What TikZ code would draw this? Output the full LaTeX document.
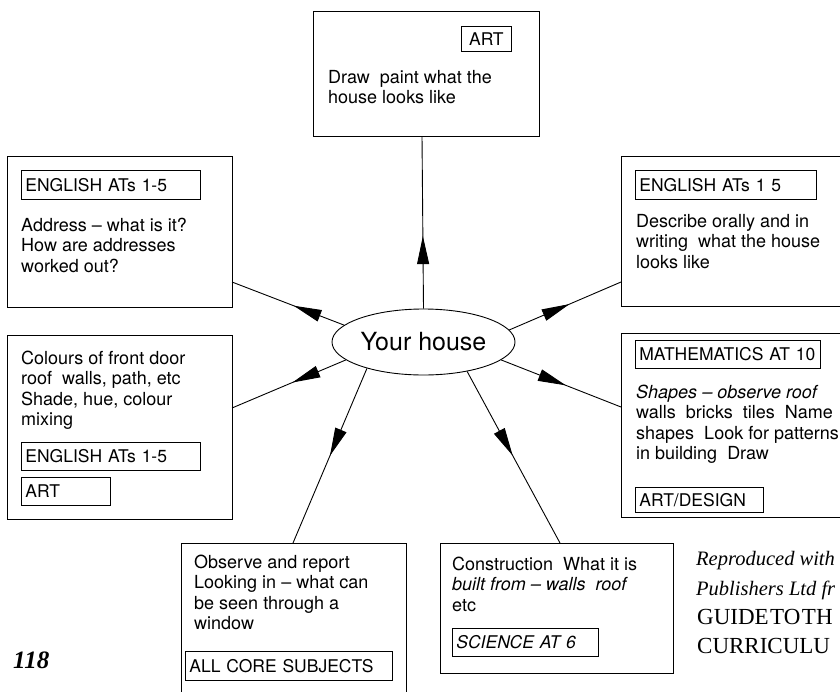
\documentclass[tikz,border=0pt]{standalone}
\usepackage{fontspec}
\setmainfont{TeX Gyre Heros}
\newfontfamily\capfont{Liberation Serif}
\usetikzlibrary{shapes.geometric,arrows.meta,decorations.markings}
\tikzset{
  mainbox/.style={draw, line width=0.9pt, anchor=north west, inner sep=0pt},
  tagbox/.style={draw, line width=0.8pt, anchor=north west, inner xsep=4pt, inner ysep=0pt,
    text width=#1, align=left, text height=13pt, text depth=0pt,
    font=\fontsize{17.5}{20}\selectfont},
  body/.style={anchor=base west, inner sep=0pt, font=\fontsize{18}{20.5}\selectfont},
  capt/.style={anchor=base west, inner sep=0pt, font=\capfont\itshape\fontsize{20.5}{24}\selectfont},
  captcaps/.style={anchor=base west, inner sep=0pt, font=\capfont\fontsize{23}{26}\selectfont},
  link/.style={line width=0.9pt},
  midarrow/.style={postaction={decorate}, decoration={markings,
    mark=at position #1 with {\arrow{Triangle[length=28pt,width=12pt]}}}},
}
\begin{document}
\begin{tikzpicture}[x=1pt,y=-1pt]
\useasboundingbox (0,0) rectangle (840,691);
\fill[white] (0,0) rectangle (840,691);
\clip (0,0) rectangle (840,691);

% centre
\node[draw, ellipse, line width=0.9pt, minimum width=183pt, minimum height=66pt, inner sep=0pt,
      font=\fontsize{25}{28}\selectfont] (house) at (423.5,342) {Your house};

% top box (ART)
\node[mainbox, minimum width=226pt, minimum height=125pt] (art) at (313,11) {};
\node[tagbox=42pt, align=center, minimum height=25pt] (artT) at (461,26) {ART};
\node[body] (artB) at (328,83) {\parbox[t]{220pt}{\raggedright Draw\ \ paint what the\\house looks like}};

% upper left
\node[mainbox, minimum width=225pt, minimum height=151pt] (ul) at (7,156) {};
\node[tagbox=171pt, minimum height=29pt] (ulT) at (21,170) {ENGLISH ATs 1-5};
\node[body] (ulB) at (21,231) {\parbox[t]{210pt}{\raggedright Address – what is it?\\How are addresses\\worked out?}};

% upper right
\node[mainbox, minimum width=240pt, minimum height=150pt] (ur) at (621,156) {};
\node[tagbox=173pt, minimum height=29pt] (urT) at (635,170) {ENGLISH ATs 1 5};
\node[body] (urB) at (636,227) {\parbox[t]{210pt}{\raggedright Describe orally and in\\writing\ \ what the house\\looks like}};

% lower left
\node[mainbox, minimum width=225pt, minimum height=184pt] (lm) at (7,335) {};
\node[body] (lmB) at (21,364) {\parbox[t]{210pt}{\raggedright Colours of front door\\roof\ \ walls, path, etc\\Shade, hue, colour\\mixing}};
\node[tagbox=171pt, minimum height=28pt] (lmT1) at (21,442) {ENGLISH ATs 1-5};
\node[tagbox=81pt, minimum height=28pt] (lmT2) at (21,477) {ART};

% lower right
\node[mainbox, minimum width=240pt, minimum height=184pt] (rm) at (621,333) {};
\node[tagbox=177pt, minimum height=28pt] (rmT1) at (635,340) {MATHEMATICS AT 10};
\node[body] (rmB) at (636,398) {\parbox[t]{215pt}{\raggedright \textit{Shapes – observe roof}\\walls\ \ bricks\ \ tiles\ \ Name\\shapes\ \ Look for patterns\\in building\ \ Draw}};
\node[tagbox=120pt, minimum height=25pt] (rmT2) at (635,487) {ART/DESIGN};

% bottom left
\node[mainbox, minimum width=225pt, minimum height=160pt] (bl) at (181,543) {};
\node[body] (blB) at (194,568) {\parbox[t]{210pt}{\raggedright Observe and report\\Looking in – what can\\be seen through a\\window}};
\node[tagbox=199pt, minimum height=29pt] (blT) at (185,651) {ALL CORE SUBJECTS};

% bottom right
\node[mainbox, minimum width=233pt, minimum height=130pt] (br) at (440,543) {};
\node[body] (brB) at (452,570) {\parbox[t]{215pt}{\raggedright Construction\ \ What it is\\\textit{built from – walls\ \ roof}\\etc}};
\node[tagbox=138pt, minimum height=28pt, font=\itshape\fontsize{17.5}{20}\selectfont] (brT) at (452,628) {SCIENCE AT 6};

% connector end points on the boxes
\coordinate (artS) at (422,136);
\coordinate (ulE) at (232,282);
\coordinate (urW) at (621,282);
\coordinate (lmE) at (232,408);
\coordinate (rmW) at (621,407);
\coordinate (blN) at (293,543);
\coordinate (brN) at (560,543);

\draw[link, midarrow=0.42] (house.90) -- (artS);
\draw[link, midarrow=0.45] (house.168) -- (ulE);
\draw[link, midarrow=0.54] (house.8) -- (urW);
\draw[link, midarrow=0.47] (house.193) -- (lmE);
\draw[link, midarrow=0.54] (house.347) -- (rmW);
\draw[link, midarrow=0.5] (house.205) -- (blN);
\draw[link, midarrow=0.49] (house.326) -- (brN);

% caption (cut at the page edge, as printed) and page number
\node[capt] (c1) at (696,565) {Reproduced with};
\node[capt] (c2) at (696,595) {Publishers Ltd fr};
\node[captcaps] (c3) at (697,624) {GUIDE\hspace{1.5pt}TO\hspace{1.5pt}TH};
\node[captcaps] (c4) at (697,653) {CURRICULU};
\node[anchor=base west, inner sep=0pt, font=\capfont\bfseries\itshape\fontsize{25}{28}\selectfont] (page) at (13,668) {118};
\end{tikzpicture}
\end{document}
